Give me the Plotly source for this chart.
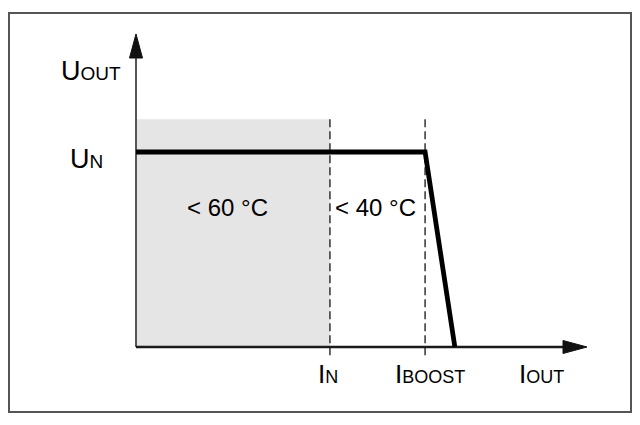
import plotly.graph_objects as go

# ---- data (abstract units; axes run from 0 to 10) ----
curve_x = [0.0, 6.41, 7.07]      # I: start, I_BOOST, drop end
curve_y = [6.23, 6.23, 0.0]      # U: U_N, U_N, 0
I_N = 4.30
I_BOOST = 6.41
U_N = 6.23
region_top = 7.28
dash_bottom = -0.35
tick_labels = ["I<span style='font-size:18px'>N</span>",
               "I<span style='font-size:18px'>BOOST</span>",
               "I<span style='font-size:18px'>OUT</span>"]
tick_pos = [4.26, 6.52, 9.0]
tick_y = -0.86
y_labels = ["U<span style='font-size:19px'>OUT</span>",
            "U<span style='font-size:19px'>N</span>"]
y_label_x = [-0.28, -0.69]
y_label_y = [8.82, 6.02]
region_labels = ["&lt; 60 °C", "&lt; 40 °C"]
region_label_x = [2.02, 5.30]
region_label_y = 4.47

X_TIP, Y_TIP = 10.0, 10.0

# ---- canvas geometry (page body adds an 8px offset) ----
W, H = 632, 417
SX, SY = 45.1, 31.3            # pixels per data unit
OX, OY = 136 - 8, 347 - 8      # pixel position of origin within the figure
x_range = [-OX / SX, (W - OX) / SX]
y_range = [-(H - OY) / SY, OY / SY]
px_x, px_y = 1 / SX, 1 / SY

FONT = "Liberation Sans, Arial, sans-serif"

fig = go.Figure()

# grey region
fig.add_shape(type="rect", xref="x", yref="y", x0=0, x1=I_N, y0=0, y1=region_top,
              fillcolor="#e6e5e6", line=dict(width=0), layer="below")

# dashed verticals
for xv in [I_N, I_BOOST]:
    fig.add_trace(go.Scatter(x=[xv, xv], y=[region_top, dash_bottom], mode="lines",
                             line=dict(color="#333333", width=1.5, dash="8px,4px"),
                             hoverinfo="skip", showlegend=False))

# axes
al, aw = 24, 6.5
fig.add_trace(go.Scatter(x=[0, 0], y=[0, Y_TIP - al * px_y], mode="lines",
                         line=dict(color="#555555", width=2), hoverinfo="skip", showlegend=False))
fig.add_trace(go.Scatter(x=[0, X_TIP - al * px_x], y=[0, 0], mode="lines",
                         line=dict(color="#1a1a1a", width=2.5), hoverinfo="skip", showlegend=False))

# main curve
fig.add_trace(go.Scatter(x=curve_x, y=curve_y, mode="lines",
                         line=dict(color="#000000", width=4.8),
                         hoverinfo="skip", showlegend=False))

# arrowheads
fig.add_shape(type="path", xref="x", yref="y",
              path=f"M{X_TIP},0 L{X_TIP - al*px_x},{aw*px_y} L{X_TIP - al*px_x},{-aw*px_y} Z",
              fillcolor="#111111", line=dict(color="#111111", width=1))
fig.add_shape(type="path", xref="x", yref="y",
              path=f"M0,{Y_TIP} L{aw*px_x},{Y_TIP - al*px_y} L{-aw*px_x},{Y_TIP - al*px_y} Z",
              fillcolor="#111111", line=dict(color="#111111", width=1))

# outer frame
fig.add_shape(type="rect", xref="paper", yref="paper",
              x0=1 / W, x1=(631 - 8) / W, y0=1 - (412 - 8) / H, y1=1 - (13 - 8) / H,
              line=dict(color="#555555", width=2), fillcolor="rgba(0,0,0,0)")

for t, xv, yv in zip(y_labels, y_label_x, y_label_y):
    fig.add_annotation(x=xv, y=yv, xref="x", yref="y", xanchor="right", yanchor="middle",
                       text=t, showarrow=False, font=dict(family=FONT, size=27, color="#000000"))
for t, xv in zip(region_labels, region_label_x):
    fig.add_annotation(x=xv, y=region_label_y, xref="x", yref="y", xanchor="center", yanchor="middle",
                       text=t, showarrow=False, font=dict(family=FONT, size=24, color="#000000"))
for t, xv in zip(tick_labels, tick_pos):
    fig.add_annotation(x=xv, y=tick_y, xref="x", yref="y", xanchor="center", yanchor="middle",
                       text=t, showarrow=False, font=dict(family=FONT, size=26, color="#000000"))

fig.update_layout(
    width=W, height=H, autosize=False,
    margin=dict(l=0, r=0, t=0, b=0, pad=0),
    paper_bgcolor="white", plot_bgcolor="white", showlegend=False,
    xaxis=dict(range=x_range, visible=False, fixedrange=True),
    yaxis=dict(range=y_range, visible=False, fixedrange=True),
)

fig.write_html("out.html")
